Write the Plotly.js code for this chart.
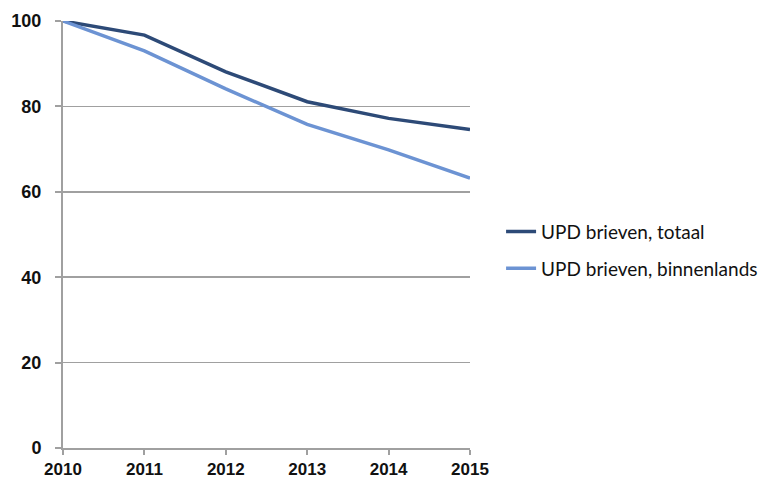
<!DOCTYPE html>
<html>
<head>
<meta charset="utf-8">
<script src="https://cdn.plot.ly/plotly-3.0.1.min.js"></script>
<style>html,body{margin:0;padding:0;background:#fff;}#chart{width:765px;height:480px;}</style>
</head>
<body>
<div id="chart"></div>
<script>
const years = [2010, 2011, 2012, 2013, 2014, 2015];
const totaal = [100, 96.7, 88.1, 81.1, 77.2, 74.6];
const binnenlands = [100, 93.0, 84.1, 75.8, 69.8, 63.2];
const seriesNames = ['UPD brieven, totaal', 'UPD brieven, binnenlands'];
const yTicks = [0, 20, 40, 60, 80, 100];

const traces = [
  {x: years, y: totaal, name: seriesNames[0], type: 'scatter', mode: 'lines',
   line: {color: '#2D4A77', width: 3.5}, legendgroup: 'a'},
  {x: years, y: binnenlands, name: seriesNames[1], type: 'scatter', mode: 'lines',
   line: {color: '#6C93D3', width: 3.5}, legendgroup: 'b'}
];

const layout = {
  width: 765, height: 480,
  margin: {l: 63, r: 295, t: 21, b: 32, autoexpand: false},
  paper_bgcolor: '#fff', plot_bgcolor: '#fff',
  showlegend: true,
  legend: {xref: 'container', yref: 'container', x: 0.655, y: 0.479,
    xanchor: 'left', yanchor: 'middle',
    font: {family: 'Lato, Open Sans, sans-serif', size: 19, color: '#111'},
    tracegroupgap: 9, itemwidth: 30, bgcolor: 'rgba(0,0,0,0)'},
  xaxis: {
    range: [2010, 2015], tickvals: years, ticktext: years.map(String),
    showgrid: false, zeroline: false,
    showline: true, linecolor: '#A0A0A0', linewidth: 2,
    ticks: 'outside', ticklen: 5, tickwidth: 2, tickcolor: '#A0A0A0',
    tickfont: {family: 'Liberation Sans, Arial, sans-serif', size: 17, color: '#111', weight: 'bold'},
    automargin: false, fixedrange: true
  },
  yaxis: {
    range: [0, 100], tickvals: yTicks, ticktext: yTicks.map(String),
    showgrid: true, gridcolor: '#A0A0A0', gridwidth: 1.5, zeroline: false,
    showline: true, linecolor: '#A0A0A0', linewidth: 2,
    ticks: 'outside', ticklen: 6, tickwidth: 2, tickcolor: '#A0A0A0',
    ticklabelstandoff: 10,
    tickfont: {family: 'Liberation Sans, Arial, sans-serif', size: 18, color: '#111', weight: 'bold'},
    automargin: false, fixedrange: true
  }
};

Plotly.newPlot('chart', traces, layout, {displayModeBar: false, staticPlot: true});
</script>
</body>
</html>
